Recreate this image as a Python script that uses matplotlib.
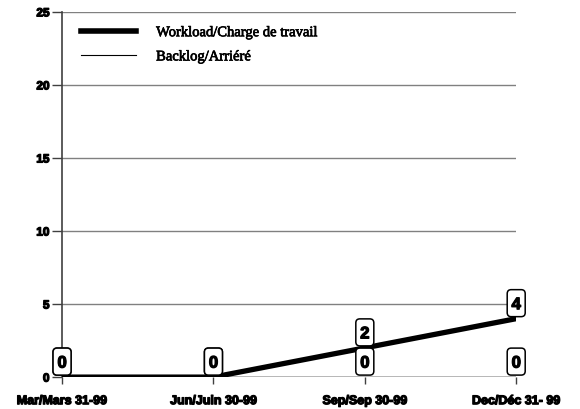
import matplotlib
matplotlib.use("Agg")
import matplotlib.pyplot as plt
import matplotlib.transforms as mtransforms
import matplotlib.patheffects as pe
from matplotlib.patches import FancyBboxPatch
from matplotlib.lines import Line2D

categories = ["Mar/Mars 31-99", "Jun/Juin 30-99", "Sep/Sep 30-99", "Dec/Déc 31- 99"]
workload = [0, 0, 2, 4]
backlog = [0, 0, 0, 0]
yticks = [0, 5, 10, 15, 20, 25]

DPI = 100
fig = plt.figure(figsize=(5.8, 4.09), dpi=DPI)
ax = fig.add_axes([0.107, 0.078, 0.783, 0.893])
x = list(range(len(categories)))

ax.set_xlim(0, len(categories) - 1)
ax.set_ylim(0, 25)
for t in yticks:
    ax.axhline(t, color="#808080", lw=1, zorder=1)

ax.plot(x, backlog, color="black", lw=1, zorder=3, solid_capstyle="butt")
ax.plot(x, workload, color="black", lw=3.8, zorder=4, solid_capstyle="round")

heavy = [pe.withStroke(linewidth=0.9, foreground="black")]
px = 72.0 / DPI  # points per pixel


def label_box(xd, yd, text, z):
    tr = mtransforms.Affine2D().scale(DPI / 72.0) + mtransforms.ScaledTranslation(xd, yd, ax.transData)
    w, h = 18 * px, 27 * px
    y0 = 2 * px
    patch = FancyBboxPatch((-w / 2, y0), w, h,
                           boxstyle="round,pad=0,rounding_size=%f" % (4 * px),
                           fc="white", ec="black", lw=1.1, transform=tr, zorder=z,
                           clip_on=False)
    ax.add_patch(patch)
    ax.text(0, y0 + h / 2, text, transform=tr, ha="center", va="center_baseline",
            fontsize=12, fontweight="bold", family="Liberation Sans", zorder=z + 0.1,
            path_effects=heavy, clip_on=False)


for xi, v in zip(x, backlog):
    label_box(xi, v, str(v), 5)
for xi, v in zip(x, workload):
    label_box(xi, v, str(v), 6)

ax.set_yticks(yticks)
ax.set_yticklabels([str(t) for t in yticks], fontsize=8.5, fontweight="bold",
                   family="Liberation Sans", path_effects=heavy)
ax.set_xticks(x)
ax.set_xticklabels(categories, fontsize=9, fontweight="bold", family="Liberation Sans",
                   path_effects=heavy)
ax.tick_params(axis="y", length=7, width=1, direction="out", pad=2, color="#404040")
ax.tick_params(axis="x", length=5, width=1, direction="out", pad=8, color="#404040")

for s in ["top", "right", "bottom"]:
    ax.spines[s].set_visible(False)
ax.spines["left"].set_linewidth(1.2)
ax.spines["left"].set_color("#404040")

handles = [Line2D([], [], color="black", lw=4), Line2D([], [], color="black", lw=0.8)]
ax.legend(handles, ["Workload/Charge de travail", "Backlog/Arriéré"], loc="upper left",
          frameon=False,
          prop={"family": "Liberation Serif", "size": 10.5},
          handlelength=3.8, handletextpad=1.35, borderpad=0, borderaxespad=0,
          labelspacing=0.75,
          bbox_to_anchor=(81 / 580, 1 - 26 / 409), bbox_transform=fig.transFigure)
for t in ax.get_legend().get_texts():
    t.set_path_effects([pe.withStroke(linewidth=0.5, foreground="black")])

fig.savefig("out.png", dpi=DPI)
